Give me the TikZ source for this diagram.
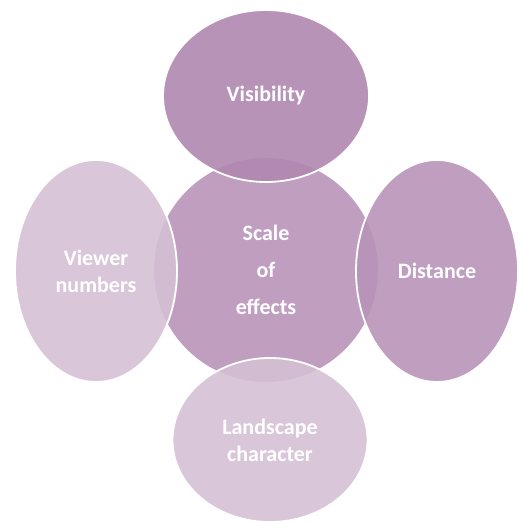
\documentclass[tikz,border=0pt]{standalone}
\usepackage{fontspec}
\setmainfont{Carlito}
\usetikzlibrary{shapes.geometric}
\definecolor{plumdark}{RGB}{176,135,176}
\definecolor{plummid}{RGB}{185,147,185}
\definecolor{plumlight}{RGB}{213,192,213}
\definecolor{plumcore}{RGB}{192,158,192}

\begin{document}
\begin{tikzpicture}[x=1pt, y=-1pt,
    petal/.style={ellipse, draw=white, line width=1.8pt, fill opacity=0.9, inner sep=0pt,
      text=white, text opacity=1, align=center,
      font=\bfseries\fontsize{22}{27}\selectfont},
  ]
    \useasboundingbox (0, 0) rectangle (520, 523);

    \node[petal, draw=none, fill=plumcore, fill opacity=1, minimum width=224, minimum height=224,
      font=\bfseries\fontsize{22}{37}\selectfont] (scale) at (266, 270) {Scale\\of\\effects};

    \node[petal, fill=plumdark, minimum width=206, minimum height=172] (vis) at (266, 96) {Visibility};
    \node[petal, fill=plummid, minimum width=162, minimum height=222] (dist) at (437, 271) {Distance};
    \node[petal, fill=plumlight, minimum width=195, minimum height=164] (land) at (270, 440) {Landscape\\character};
    \node[petal, fill=plumlight, minimum width=162, minimum height=222] (view) at (96, 271) {Viewer\\numbers};
\end{tikzpicture}
\end{document}
